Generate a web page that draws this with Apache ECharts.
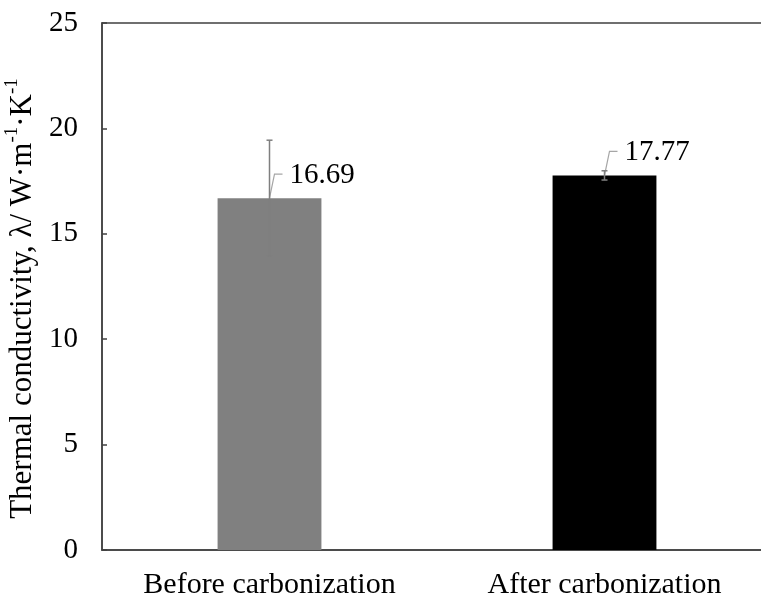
<!DOCTYPE html>
<html>
<head>
<meta charset="utf-8">
<script src="https://cdn.jsdelivr.net/npm/echarts@6/dist/echarts.min.js"></script>
<style>
  html, body { margin: 0; padding: 0; background: #ffffff; }
  #chart { width: 761px; height: 600px; }
</style>
</head>
<body>
<div id="chart"></div>
<script>
// Sample groups and measured thermal conductivity (W·m-1·K-1)
const categories = ['Before carbonization', 'After carbonization'];
const conductivity = [16.69, 17.77];
const stdDev = [2.75, 0.22];
const barColors = ['#808080', '#000000'];

// Value axis range
const yMin = 0;
const yMax = 25;
const yStep = 5;

// Callout leader: rise above the bar top, in pixels
const CALLOUT_RISE = 24;

const FONT = '"Liberation Serif", "Times New Roman", serif';
const AXIS_COLOR = '#404040';

const chart = echarts.init(document.getElementById('chart'), null, { renderer: 'canvas' });

const option = {
  backgroundColor: '#ffffff',
  animation: false,
  grid: {
    left: 102, top: 23, width: 670, height: 527,
    outerBoundsMode: 'none',
    containLabel: false,
    show: true, borderColor: AXIS_COLOR, borderWidth: 1.5, backgroundColor: 'transparent'
  },
  xAxis: {
    type: 'category',
    data: categories,
    axisLine: { show: true, lineStyle: { color: AXIS_COLOR, width: 1.5 } },
    axisTick: { show: false },
    axisLabel: { color: '#000', fontFamily: FONT, fontSize: 30, margin: 20, interval: 0, hideOverlap: false }
  },
  yAxis: {
    type: 'value',
    min: yMin, max: yMax, interval: yStep,
    name: '{t|Thermal conductivity, λ/ W·m}{s|-1}{t|·K}{s|-1}',
    nameLocation: 'middle',
    nameRotate: 90,
    nameGap: 61,
    nameTextStyle: {
      padding: [0, 24, 0, 0],
      rich: {
        t: { fontFamily: FONT, fontSize: 31, color: '#000', verticalAlign: 'bottom', lineHeight: 36 },
        s: { fontFamily: FONT, fontSize: 19, color: '#000', verticalAlign: 'top', lineHeight: 36 }
      }
    },
    splitLine: { show: false },
    axisLine: { show: true, lineStyle: { color: AXIS_COLOR, width: 1.5 } },
    axisTick: { show: true, inside: true, length: 5, lineStyle: { color: AXIS_COLOR, width: 1.5 } },
    axisLabel: { color: '#000', fontFamily: FONT, fontSize: 29, margin: 24 }
  },
  series: [
    {
      type: 'bar',
      barWidth: '31%',
      data: conductivity.map((v, i) => ({
        value: v,
        itemStyle: { color: barColors[i] }
      })),
      z: 2
    },
    {
      // value labels with leader lines
      type: 'custom',
      data: conductivity.map((v, i) => [i, v]),
      encode: { x: 0, y: 1 },
      clip: false,
      z: 3,
      renderItem: function (params, api) {
        const i = api.value(0);
        const v = api.value(1);
        const p = api.coord([i, v]);
        const bx = p[0] + 5, by = p[1] - CALLOUT_RISE;
        return {
          type: 'group',
          children: [
            {
              type: 'polyline',
              shape: { points: [[p[0], p[1]], [bx, by], [bx + 8, by]] },
              style: { stroke: '#a6a6a6', lineWidth: 1.2, fill: null }
            },
            {
              type: 'text',
              style: {
                x: p[0] + 20, y: by + 1,
                text: v.toFixed(2),
                fontFamily: FONT, fontSize: 29, fill: '#000',
                textAlign: 'left', textVerticalAlign: 'middle'
              }
            }
          ]
        };
      }
    },
    {
      // error bars (± standard deviation)
      type: 'custom',
      data: conductivity.map((v, i) => [i, v, stdDev[i]]),
      encode: { x: 0, y: 1 },
      clip: false,
      z: 4,
      renderItem: function (params, api) {
        const i = api.value(0);
        const v = api.value(1);
        const e = api.value(2);
        const hi = api.coord([i, v + e]);
        const lo = api.coord([i, v - e]);
        const cap = 3;
        const style = { stroke: '#7f7f7f', lineWidth: 1.5 };
        return {
          type: 'group',
          children: [
            { type: 'line', shape: { x1: hi[0], y1: hi[1], x2: lo[0], y2: lo[1] }, style },
            { type: 'line', shape: { x1: hi[0] - cap, y1: hi[1], x2: hi[0] + cap, y2: hi[1] }, style },
            { type: 'line', shape: { x1: lo[0] - cap, y1: lo[1], x2: lo[0] + cap, y2: lo[1] }, style }
          ]
        };
      }
    }
  ]
};

chart.setOption(option);
</script>
</body>
</html>
